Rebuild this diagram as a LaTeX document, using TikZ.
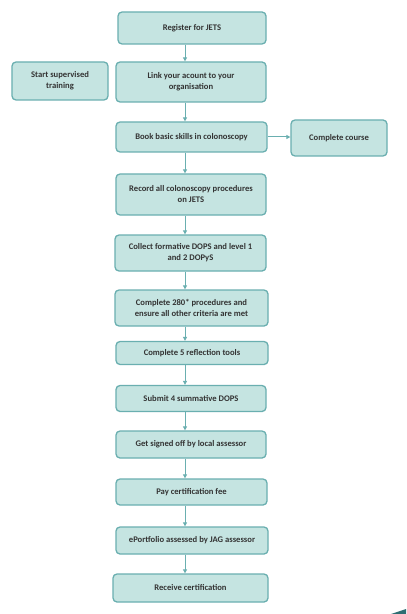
\documentclass[tikz,border=0pt]{standalone}
\usepackage{fontspec}
\setmainfont{Carlito}
\usetikzlibrary{arrows.meta}
\definecolor{boxfill}{HTML}{C5E4E1}
\definecolor{boxline}{HTML}{6AAFB0}
\definecolor{txt}{HTML}{333333}
\definecolor{corner}{HTML}{2E6E72}
\begin{document}
\begin{tikzpicture}[x=1bp,y=-1bp,
  box/.style={draw=boxline,line width=1.3bp,fill=boxfill,rounded corners=4bp,
    text=txt,font=\fontsize{8.6bp}{11bp}\selectfont\bfseries,align=center,inner sep=0pt},
  arr/.style={draw=boxline,line width=1bp,-{Triangle[width=4bp,length=4bp]}}]
\useasboundingbox (0,0) rectangle (406,614);
\fill[white] (0,0) rectangle (406,614);
\node[box,minimum width=148bp,minimum height=32bp] (reg) at (192,28) {Register for JETS};
\node[box,minimum width=96bp,minimum height=38bp] (sup) at (60,81) {Start supervised\\training};
\node[box,minimum width=150bp,minimum height=40bp] (link) at (191,82) {Link your acount to your\\organisation};
\node[box,minimum width=151bp,minimum height=30bp] (book) at (191.5,137) {Book basic skills in colonoscopy};
\node[box,minimum width=96bp,minimum height=36bp] (course) at (339,138) {Complete course};
\node[box,minimum width=150bp,minimum height=41bp] (rec) at (191,194.5) {Record all colonoscopy procedures\\on JETS};
\node[box,minimum width=151bp,minimum height=36bp] (col) at (190.5,253) {Collect formative DOPS and level 1\\and 2 DOPyS};
\node[box,minimum width=153bp,minimum height=36bp] (c280) at (191.5,308) {Complete 280* procedures and\\ensure all other criteria are met};
\node[box,minimum width=152bp,minimum height=23bp] (refl) at (192,353) {Complete 5 reflection tools};
\node[box,minimum width=150bp,minimum height=26bp] (sub) at (191,398.5) {Submit 4 summative DOPS};
\node[box,minimum width=150bp,minimum height=27bp] (sign) at (191,444.5) {Get signed off by local assessor};
\node[box,minimum width=151bp,minimum height=26bp] (pay) at (191.5,492) {Pay certification fee};
\node[box,minimum width=152bp,minimum height=27bp] (eport) at (192,540.5) {ePortfolio assessed by JAG assessor};
\node[box,minimum width=155bp,minimum height=28bp] (recv) at (190.5,588) {Receive certification};
\coordinate (ax) at (185,0);
\draw[arr] (ax |- reg.south) -- (ax |- link.north);
\draw[arr] (ax |- link.south) -- (ax |- book.north);
\draw[arr] (book.east) -- (course.west |- book.east);
\draw[arr] (ax |- book.south) -- (ax |- rec.north);
\draw[arr] (ax |- rec.south) -- (ax |- col.north);
\draw[arr] (ax |- col.south) -- (ax |- c280.north);
\draw[arr] (ax |- c280.south) -- (ax |- refl.north);
\draw[arr] (ax |- refl.south) -- (ax |- sub.north);
\draw[arr] (ax |- sub.south) -- (ax |- sign.north);
\draw[arr] (ax |- sign.south) -- (ax |- pay.north);
\draw[arr] (ax |- pay.south) -- (ax |- eport.north);
\draw[arr] (ax |- eport.south) -- (ax |- recv.north);
\fill[corner] (391,614) .. controls (398,612) .. (406,609) -- (406,614) -- cycle;
\end{tikzpicture}
\end{document}
